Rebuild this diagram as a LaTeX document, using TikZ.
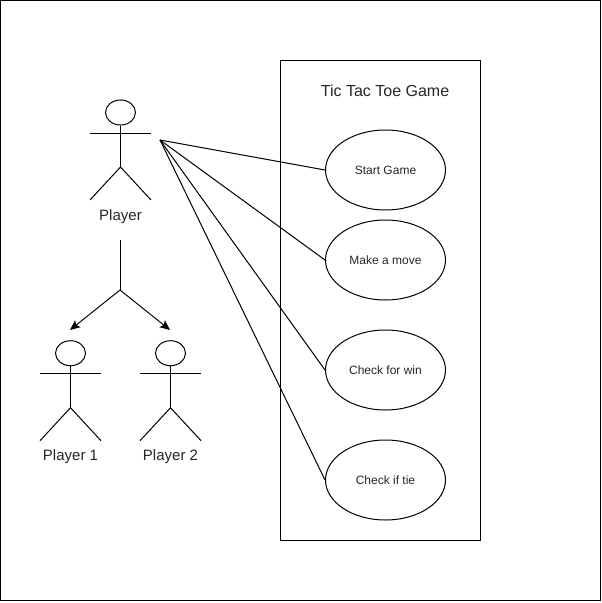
\documentclass[tikz,border=0pt]{standalone}
\usepackage{fontspec}
\setmainfont{Liberation Sans}
\usetikzlibrary{arrows.meta,shapes.geometric}
\tikzset{
  x=0.75pt,y=-0.75pt,
  line/.style={draw=black,line width=0.75pt},
  usecase/.style={ellipse,draw=black,line width=0.75pt,minimum width=90pt,minimum height=60pt,inner sep=0pt,font=\fontsize{9}{11}\selectfont,text=black!85},
  head/.style={ellipse,draw=black,line width=0.75pt,minimum width=22.5pt,minimum height=18.75pt,inner sep=0pt},
  label/.style={font=\fontsize{11.25}{13}\selectfont,text=black!85,inner sep=0pt},
  title/.style={font=\fontsize{12}{14}\selectfont,text=black!85,inner sep=0pt},
  link/.style={line,-{Stealth[length=7.5pt,width=6.5pt,inset=1.5pt]}},
  actor/.pic={
    \node[head] (-head) at (0,-27.5) {};
    \draw[line] (-head.south) -- (0,27);
    \draw[line] (-30.5,-7) -- (30.5,-7);
    \draw[line] (-30.5,60) -- (0,27) -- (30.5,60);
  }
}
\begin{document}
\begin{tikzpicture}
\useasboundingbox (0,0) rectangle (602,603);
\fill[white] (0,0) rectangle (602,603);
\node[draw=black,line width=0.75pt,minimum width=450pt,minimum height=450pt,inner sep=0pt] (frame) at (300.5,300.5) {};
\node[draw=black,line width=0.75pt,minimum width=150pt,minimum height=360pt,inner sep=0pt] (system) at (380.7,300.3) {};
\node[title] (gametitle) at (385,90.5) {Tic Tac Toe Game};
\node[usecase] (start) at (385.5,170) {Start Game};
\node[usecase] (move) at (385.5,260) {Make a move};
\node[usecase] (win) at (385.5,370) {Check for win};
\node[usecase] (tie) at (385.5,480) {Check if tie};
\pic (player) at (120.5,140) {actor};
\pic (pone) at (70.5,380.7) {actor};
\pic (ptwo) at (170.5,380.7) {actor};
\node[label] (playerlabel) at (120.5,217) {Player};
\node[label] (ponelabel) at (70.5,457) {Player 1};
\node[label] (ptwolabel) at (170.5,457) {Player 2};
\coordinate (hub) at (160,140);
\coordinate (top) at (120,240);
\coordinate (fork) at (120,290);
\coordinate (onetip) at (70,330);
\coordinate (twotip) at (170,330);
\draw[line] (hub) -- (start.west);
\draw[line] (hub) -- (move.west);
\draw[line] (hub) -- (win.west);
\draw[line] (hub) -- (tie.west);
\draw[line] (top) -- (fork);
\draw[link] (fork) -- (onetip);
\draw[link] (fork) -- (twotip);
\end{tikzpicture}
\end{document}
